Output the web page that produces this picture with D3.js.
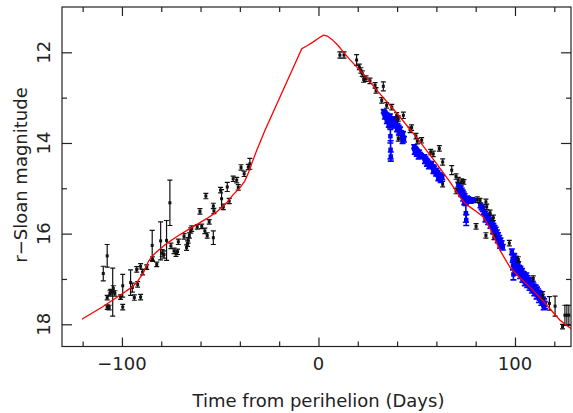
<!DOCTYPE html>
<html>
<head>
<meta charset="utf-8">
<script src="https://cdn.jsdelivr.net/npm/d3@7"></script>
<style>
  body { margin: 0; background: #fff; }
  svg text { font-family: "DejaVu Sans", sans-serif; fill: #222; }
</style>
</head>
<body>
<div id="chart"></div>
<script>
var width = 573;
var height = 413;

// axis ticks
var xMajor = [-100, 0, 100];
var xMinor = [-120, -80, -60, -40, -20, 20, 40, 60, 80, 120];
var yMajor = [12, 14, 16, 18];
var yMinor = [13, 15, 17];

// model light curve (day, r mag)
var modelCurve = [
  [-120.4, 17.89], [-110, 17.62], [-100, 17.33], [-95, 17.18], [-92.5, 17.08],
  [-89.2, 16.87], [-86.6, 16.62], [-84.9, 16.51], [-82.3, 16.40], [-77.3, 16.22],
  [-72.2, 16.07], [-65.4, 15.89], [-56.9, 15.67], [-51.8, 15.52], [-46.7, 15.32],
  [-43.4, 15.14], [-40, 14.99], [-37.5, 14.84], [-35.5, 14.64], [-33.5, 14.40],
  [-31.4, 14.16], [-29.2, 13.93], [-27.2, 13.72], [-8.5, 11.92], [-6, 11.86],
  [-3, 11.78], [0, 11.69], [2.5, 11.62], [4.5, 11.64], [7, 11.72],
  [10, 11.85], [12.6, 11.99], [16, 12.16], [19.4, 12.32], [22.8, 12.47],
  [30, 12.85], [40, 13.35], [50, 13.88], [54.2, 14.12], [60.2, 14.46],
  [66.9, 14.86], [71.9, 15.19], [74.5, 15.33], [77, 15.41], [80, 15.50],
  [83.9, 15.63], [87.3, 15.89], [92.4, 16.37], [97.4, 16.74], [102, 16.95],
  [107.6, 17.18], [115, 17.52], [122.9, 17.91], [129.5, 18.13]
];

// black photometry (day, mag, err)
var blackPts = [
  [-109.5, 16.88, 0.16], [-107.5, 16.49, 0.25], [-107.5, 17.41, 0.05], [-107.5, 17.62, 0.05],
  [-106.5, 17.63, 0.05], [-106.1, 17.32, 0.06], [-105.7, 17.29, 0.06], [-104.7, 17.29, 0.53],
  [-104.4, 17.21, 0.06], [-103.6, 17.32, 0.06], [-100.7, 17.40, 0.05], [-99.6, 17.15, 0.25],
  [-99.6, 17.62, 0.06], [-95.6, 17.08, 0.28], [-94.7, 17.19, 0.1], [-93.7, 17.41, 0.06],
  [-92.5, 16.79, 0.06], [-92.0, 17.12, 0.06], [-90.5, 16.72, 0.06], [-90.5, 17.40, 0.06],
  [-89.5, 16.85, 0.06], [-87.4, 16.74, 0.05], [-84.6, 16.26, 0.33], [-84.4, 16.56, 0.05],
  [-82.3, 16.68, 0.05], [-80.3, 16.16, 0.42], [-79.5, 16.43, 0.08], [-78.6, 16.46, 0.08],
  [-77.3, 16.15, 0.44], [-75.6, 15.32, 0.50], [-75.1, 16.27, 0.06], [-73.5, 16.38, 0.06],
  [-72.5, 16.44, 0.06], [-71.7, 16.40, 0.06], [-71.3, 16.18, 0.06], [-68.4, 16.06, 0.06],
  [-67.1, 16.31, 0.06], [-66.6, 16.22, 0.06], [-66.3, 16.15, 0.06], [-65.7, 16.04, 0.06],
  [-65.0, 15.93, 0.06], [-64.5, 15.89, 0.06], [-61.7, 15.85, 0.05], [-60.3, 15.51, 0.06],
  [-59.4, 15.84, 0.05], [-57.8, 15.94, 0.06], [-57.3, 15.17, 0.06], [-56.6, 16.04, 0.06],
  [-55.6, 15.74, 0.05], [-53.5, 15.39, 0.06], [-53.5, 16.09, 0.15], [-53.2, 15.50, 0.06],
  [-49.8, 15.04, 0.06], [-49.3, 15.23, 0.2], [-48.4, 15.41, 0.06], [-46.4, 14.97, 0.1],
  [-45.4, 15.28, 0.06], [-43.4, 14.79, 0.06], [-41.6, 14.82, 0.06], [-40.8, 14.98, 0.06],
  [-39.4, 14.54, 0.06], [-37.8, 14.68, 0.06], [-35.7, 14.53, 0.06], [-34.9, 14.46, 0.12],
  [10.9, 12.06, 0.07], [13.0, 12.06, 0.07], [19.4, 12.17, 0.12], [20.8, 12.32, 0.06],
  [21.6, 12.40, 0.06], [22.3, 12.47, 0.06], [23.0, 12.60, 0.06], [24.2, 12.58, 0.06],
  [26.2, 12.63, 0.06], [28.8, 12.73, 0.06], [29.3, 12.84, 0.06], [33.0, 12.75, 0.1],
  [32.2, 13.06, 0.06], [34.7, 13.17, 0.06], [37.3, 13.21, 0.06], [39.8, 13.39, 0.06],
  [40.6, 13.46, 0.06], [40.6, 13.90, 0.06], [43.2, 13.39, 0.07], [46.6, 13.71, 0.06],
  [47.4, 13.66, 0.06], [49.6, 13.85, 0.06], [50.3, 13.96, 0.06], [52.5, 13.94, 0.06],
  [57.1, 14.20, 0.06], [58.4, 14.24, 0.06], [61.5, 14.12, 0.06], [63.2, 14.42, 0.07],
  [63.2, 14.91, 0.06], [67.8, 14.60, 0.1], [70.0, 14.74, 0.06], [70.0, 15.06, 0.06],
  [71.1, 14.82, 0.06], [72.9, 14.84, 0.05], [74.0, 14.86, 0.05], [80.2, 15.84, 0.06],
  [80.8, 15.25, 0.06], [82.2, 15.27, 0.05], [85.2, 15.30, 0.06], [85.6, 15.41, 0.06],
  [85.2, 16.04, 0.06], [87.3, 15.54, 0.06], [89.0, 15.65, 0.06], [89.3, 16.07, 0.06],
  [97.1, 16.21, 0.06], [101.7, 16.57, 0.06], [109.3, 16.99, 0.06], [114.1, 17.36, 0.08],
  [117.5, 17.54, 0.15], [120.4, 17.60, 0.22], [124.2, 18.05, 0.05], [125.4, 17.80, 0.22],
  [126.4, 17.80, 0.22], [127.4, 17.80, 0.22]
];

// blue photometry (day, mag, err)
var bluePts = [
  [33.2, 13.30, 0.04], [33.6, 13.33, 0.04], [34.0, 13.36, 0.04], [34.3, 13.40, 0.04],
  [34.7, 13.38, 0.04], [35.0, 13.44, 0.04], [35.3, 13.47, 0.04], [35.7, 13.50, 0.04],
  [36.0, 13.45, 0.04], [36.3, 13.55, 0.05], [36.5, 13.62, 0.05], [36.6, 13.85, 0.15],
  [36.7, 14.15, 0.2], [36.8, 14.30, 0.1], [37.0, 13.58, 0.05], [37.4, 13.52, 0.04],
  [33.8, 13.42, 0.05], [34.8, 13.52, 0.05], [35.8, 13.60, 0.05], [36.4, 13.40, 0.04],
  [38.2, 13.46, 0.04], [38.8, 13.52, 0.04], [39.5, 13.56, 0.04], [40.2, 13.62, 0.05],
  [40.8, 13.66, 0.05], [41.5, 13.70, 0.05], [42.0, 13.78, 0.05], [42.4, 13.86, 0.06],
  [43.0, 13.80, 0.05], [43.5, 13.92, 0.06], [39.0, 13.62, 0.05], [40.0, 13.70, 0.05],
  [41.0, 13.76, 0.05], [42.8, 13.95, 0.06],
  [48.7, 14.08, 0.04], [49.2, 14.12, 0.04], [49.7, 14.15, 0.04], [50.2, 14.18, 0.04],
  [50.7, 14.22, 0.04], [51.2, 14.20, 0.04], [51.7, 14.25, 0.04], [52.2, 14.28, 0.04],
  [49.0, 14.20, 0.05], [50.0, 14.24, 0.05], [51.0, 14.30, 0.05],
  [53.9, 14.30, 0.04], [54.4, 14.34, 0.04], [54.9, 14.38, 0.04], [55.4, 14.40, 0.04],
  [55.9, 14.44, 0.04], [56.4, 14.46, 0.04], [56.9, 14.48, 0.04], [54.2, 14.40, 0.05],
  [55.2, 14.46, 0.05], [56.2, 14.52, 0.05],
  [57.6, 14.45, 0.04], [58.2, 14.52, 0.04], [58.8, 14.56, 0.05], [59.4, 14.62, 0.05],
  [60.0, 14.60, 0.04], [60.6, 14.66, 0.05], [61.2, 14.70, 0.05], [61.8, 14.72, 0.05],
  [62.4, 14.74, 0.05], [63.0, 14.76, 0.05], [58.5, 14.62, 0.05], [59.8, 14.68, 0.05],
  [61.0, 14.78, 0.05], [62.2, 14.82, 0.05],
  [71.2, 14.92, 0.05], [71.8, 14.98, 0.05], [72.4, 15.00, 0.05], [72.9, 15.06, 0.06],
  [73.4, 15.10, 0.06], [73.9, 15.14, 0.06], [74.4, 15.18, 0.06], [74.8, 15.30, 0.08],
  [75.0, 15.55, 0.2], [75.2, 15.70, 0.12], [75.6, 15.22, 0.05], [76.2, 15.24, 0.05],
  [76.8, 15.26, 0.05], [77.5, 15.28, 0.05], [78.2, 15.25, 0.04], [79.0, 15.27, 0.04],
  [71.5, 15.06, 0.05], [72.6, 15.12, 0.06], [73.6, 15.22, 0.06], [74.2, 15.30, 0.06],
  [82.4, 15.38, 0.05], [83.0, 15.42, 0.05], [83.6, 15.46, 0.05], [84.2, 15.52, 0.05],
  [84.8, 15.56, 0.05], [85.4, 15.60, 0.05], [86.0, 15.64, 0.06], [86.6, 15.62, 0.05],
  [87.2, 15.70, 0.06], [87.8, 15.74, 0.06], [88.4, 15.80, 0.06], [89.0, 15.84, 0.06],
  [89.6, 15.88, 0.06], [90.2, 15.92, 0.06], [90.8, 15.98, 0.06], [91.4, 16.04, 0.06],
  [92.0, 16.10, 0.06], [92.6, 16.16, 0.06], [93.2, 16.22, 0.06], [93.8, 16.30, 0.06],
  [85.0, 15.68, 0.06], [86.3, 15.74, 0.06], [87.5, 15.82, 0.06], [88.8, 15.94, 0.06],
  [90.0, 16.04, 0.06], [91.2, 16.14, 0.06], [92.4, 16.26, 0.06],
  [98.4, 16.40, 0.06], [98.8, 16.55, 0.08], [99.0, 16.70, 0.1], [99.2, 16.90, 0.12],
  [99.6, 16.50, 0.06], [100.0, 16.60, 0.06], [100.4, 16.56, 0.06], [100.8, 16.66, 0.06],
  [101.2, 16.70, 0.06], [101.6, 16.68, 0.06], [102.0, 16.76, 0.06], [102.4, 16.80, 0.06],
  [102.8, 16.78, 0.06], [103.2, 16.86, 0.07], [103.6, 16.84, 0.07], [104.0, 16.90, 0.07],
  [100.2, 16.76, 0.07], [101.4, 16.84, 0.07], [102.6, 16.92, 0.07], [103.8, 17.00, 0.07],
  [104.6, 16.92, 0.07], [105.2, 16.96, 0.07], [105.8, 16.94, 0.07], [106.4, 17.00, 0.07],
  [107.0, 17.04, 0.07], [107.6, 17.06, 0.07], [108.2, 17.10, 0.07], [108.8, 17.12, 0.07],
  [109.4, 17.16, 0.07], [110.0, 17.20, 0.07], [110.6, 17.22, 0.08], [111.2, 17.26, 0.08],
  [111.8, 17.30, 0.08], [112.4, 17.34, 0.08], [113.0, 17.38, 0.08], [113.6, 17.42, 0.08],
  [114.2, 17.48, 0.08], [114.8, 17.52, 0.08], [115.2, 17.58, 0.08],
  [105.0, 17.08, 0.07], [106.2, 17.12, 0.07], [107.4, 17.18, 0.07], [108.6, 17.24, 0.07],
  [109.8, 17.30, 0.07], [111.0, 17.36, 0.08], [112.2, 17.44, 0.08], [113.4, 17.50, 0.08],
  [114.6, 17.60, 0.08]
];

var plotLeft = 62, plotRight = 571, plotTop = 7, plotBottom = 346.5;

var svg = d3.select("#chart")
            .append("svg")
            .attr("width", width)
            .attr("height", height);

var x = d3.scaleLinear().domain([-130.5, 128.5]).range([plotLeft, plotRight]);
var y = d3.scaleLinear().domain([11.0, 18.49]).range([plotTop, plotBottom]);

// frame
svg.append("rect")
    .attr("x", plotLeft)
    .attr("y", plotTop)
    .attr("width", plotRight - plotLeft)
    .attr("height", plotBottom - plotTop)
    .attr("fill", "none")
    .attr("stroke", "#222")
    .attr("stroke-width", 1.2);

// ticks, all pointing inwards
function addTicks(axisFn, scale, values, size, translate) {
    svg.append("g")
        .attr("transform", translate)
        .call(axisFn(scale).tickValues(values).tickSize(-size).tickFormat(""))
        .call(g => g.select(".domain").remove())
        .selectAll("line")
        .attr("stroke", "#222")
        .attr("stroke-width", 1.2);
}
addTicks(d3.axisBottom, x, xMajor, 9, "translate(0," + plotBottom + ")");
addTicks(d3.axisBottom, x, xMinor, 5, "translate(0," + plotBottom + ")");
addTicks(d3.axisTop, x, xMajor, 9, "translate(0," + plotTop + ")");
addTicks(d3.axisTop, x, xMinor, 5, "translate(0," + plotTop + ")");
addTicks(d3.axisLeft, y, yMajor, 10, "translate(" + plotLeft + ",0)");
addTicks(d3.axisLeft, y, yMinor, 5, "translate(" + plotLeft + ",0)");
addTicks(d3.axisRight, y, yMajor, 10, "translate(" + plotRight + ",0)");
addTicks(d3.axisRight, y, yMinor, 5, "translate(" + plotRight + ",0)");

// tick labels
svg.selectAll(".xlab")
    .data(xMajor)
    .enter()
    .append("text")
    .attr("x", d => x(d))
    .attr("y", 370)
    .style("text-anchor", "middle")
    .style("font-size", "18px")
    .text(d => d < 0 ? "\u2212" + Math.abs(d) : d);

svg.selectAll(".ylab")
    .data(yMajor)
    .enter()
    .append("text")
    .attr("transform", d => "translate(50," + y(d) + ") rotate(-90)")
    .style("text-anchor", "middle")
    .style("font-size", "18px")
    .text(d => d);

// axis titles
svg.append("text")
    .attr("x", 318.5)
    .attr("y", 407)
    .style("text-anchor", "middle")
    .style("font-size", "18px")
    .text("Time from perihelion (Days)");

svg.append("text")
    .attr("transform", "translate(27,175) rotate(-90)")
    .style("text-anchor", "middle")
    .style("font-size", "18px")
    .text("r\u2212Sloan magnitude");

svg.append("clipPath").attr("id", "clip")
    .append("rect")
    .attr("x", plotLeft).attr("y", plotTop)
    .attr("width", plotRight - plotLeft).attr("height", plotBottom - plotTop);

var plot = svg.append("g").attr("clip-path", "url(#clip)");

// error bar points
function drawPoints(data, color, cap, box, sw) {
    var g = plot.append("g").attr("stroke", color).attr("fill", color);
    var pts = g.selectAll("g")
        .data(data)
        .enter()
        .append("g");
    pts.append("line")
        .attr("x1", d => x(d[0]))
        .attr("x2", d => x(d[0]))
        .attr("y1", d => y(d[1] - d[2]))
        .attr("y2", d => y(d[1] + d[2]))
        .attr("stroke-width", sw);
    pts.append("line")
        .attr("x1", d => x(d[0]) - cap)
        .attr("x2", d => x(d[0]) + cap)
        .attr("y1", d => y(d[1] - d[2]))
        .attr("y2", d => y(d[1] - d[2]))
        .attr("stroke-width", sw);
    pts.append("line")
        .attr("x1", d => x(d[0]) - cap)
        .attr("x2", d => x(d[0]) + cap)
        .attr("y1", d => y(d[1] + d[2]))
        .attr("y2", d => y(d[1] + d[2]))
        .attr("stroke-width", sw);
    pts.append("rect")
        .attr("x", d => x(d[0]) - box / 2)
        .attr("y", d => y(d[1]) - box / 2)
        .attr("width", box)
        .attr("height", box)
        .attr("stroke", "none");
}

drawPoints(bluePts, "#0000ff", 3, 4.5, 1.6);
drawPoints(blackPts, "#111", 2.5, 3, 1.2);

// model curve
var lineGenerator = d3.line()
                      .x(d => x(d[0]))
                      .y(d => y(d[1]))
                      .curve(d3.curveLinear);

plot.append("path")
    .datum(modelCurve)
    .attr("d", lineGenerator)
    .attr("fill", "none")
    .attr("stroke", "#ff0000")
    .attr("stroke-width", 1.3);
</script>
</body>
</html>
